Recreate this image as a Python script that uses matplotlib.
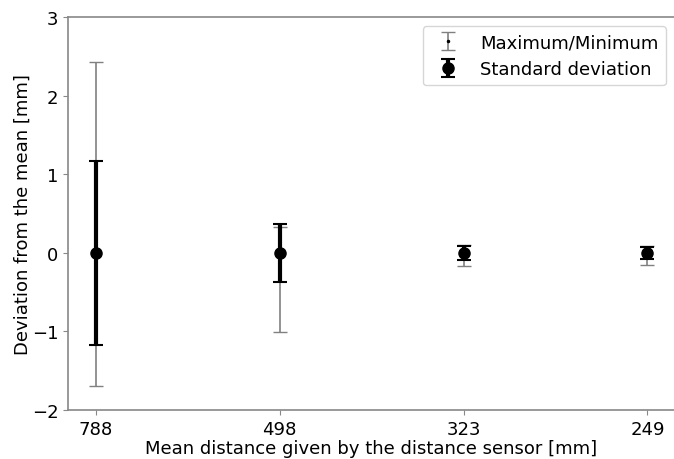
import numpy as np
import matplotlib
matplotlib.use('Agg')
import matplotlib.pyplot as plt

# mean distances given by the sensor [mm]
distances = ['788', '498', '323', '249']
# max/min deviation from the mean [mm]
dev_max = [2.43, 0.33, 0.10, 0.08]
dev_min = [-1.70, -1.01, -0.17, -0.15]
# standard deviation [mm]
dev_std = [1.17, 0.37, 0.09, 0.075]
means = [0.0, 0.0, 0.0, 0.0]

x = np.arange(len(distances))

fig = plt.figure(figsize=(6.74, 4.60), dpi=100)
ax = fig.add_axes([0.101, 0.1065, 0.9005, 0.8545])

ax.errorbar(x, means, yerr=[-np.array(dev_min), np.array(dev_max)],
            fmt='.', color='k', ecolor='gray', elinewidth=1.2, capsize=5,
            markersize=3, label='Maximum/Minimum')
ax.errorbar(x, means, yerr=dev_std, fmt='o', color='k', ecolor='k',
            elinewidth=3, capsize=5, capthick=1.5, markersize=8,
            label='Standard deviation')

ax.set_xticks(x)
ax.set_xticklabels(distances)
ax.set_xlim(-0.15, 3.15)
ax.set_ylim(-2, 3)
ax.set_yticks([-2, -1, 0, 1, 2, 3])
for sp in ax.spines.values():
    sp.set_color('#888888')
    sp.set_linewidth(1.2)
ax.tick_params(labelsize=13, color='#888888', length=3.5)
ax.set_xlabel('Mean distance given by the distance sensor [mm]', fontsize=13,
              labelpad=1)
ax.set_ylabel('Deviation from the mean [mm]', fontsize=13, labelpad=0)
ax.legend(loc='upper right', fontsize=13)

fig.savefig('out.png', dpi=100)
